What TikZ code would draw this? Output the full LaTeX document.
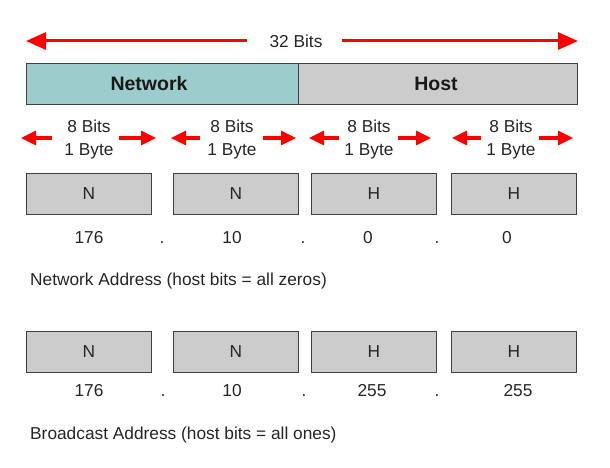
\documentclass[tikz,border=0pt]{standalone}
\usepackage{fontspec}
\setmainfont{Liberation Sans}
\usetikzlibrary{arrows.meta}
\definecolor{netcol}{HTML}{9CCCCC}
\definecolor{boxgray}{HTML}{CCCCCC}
\definecolor{arrred}{HTML}{FF0000}
\begin{document}
\begin{tikzpicture}[x=1pt,y=-1pt,
  lbl/.style={inner sep=0pt, font=\fontsize{17.3}{20}\selectfont, text=black!85},
  bartxt/.style={inner sep=0pt, font=\fontsize{19.5}{22}\bfseries\selectfont, text=black!90},
  barbox/.style={draw=black!75, line width=0.8pt, inner sep=0pt, anchor=north west},
  octet/.style={draw=black!75, line width=0.8pt, fill=boxgray, inner sep=0pt, anchor=north west,
    minimum width=125pt, minimum height=41pt, font=\fontsize{17.3}{20}\selectfont, text=black!85},
  bigarr/.style={draw=arrred, line width=3pt, -{Triangle[length=20pt,width=17pt]}},
  smallarr/.style={draw=arrred, line width=3pt, -{Triangle[length=15pt,width=14pt]}}
]
\useasboundingbox (0,0) rectangle (610,468);
% 32 bits arrow
\node[lbl] (t32) at (296,41) {32 Bits};
\coordinate (l32a) at (247,41); \coordinate (l32b) at (26,41);
\coordinate (r32a) at (342,41); \coordinate (r32b) at (578,41);
\draw[bigarr] (l32a) -- (l32b);
\draw[bigarr] (r32a) -- (r32b);
% bar
\node[barbox, fill=netcol, minimum width=272pt, minimum height=41pt] (net) at (26,63) {};
\node[barbox, fill=boxgray, minimum width=279pt, minimum height=41pt] (host) at (298,63) {};
\node[bartxt] (nett) at (149,84) {Network};
\node[bartxt] (hostt) at (436,84) {Host};
% byte labels
\foreach \i/\cx/\la/\lb/\ra/\rb in {1/89/52/21/119/156, 2/232/200/171/263/296, 3/369/339/309/398/431, 4/511/481/452/539/573}{
  \node[lbl] (b\i) at (\cx,126) {8 Bits};
  \node[lbl] (y\i) at (\cx,151) {1 Byte};
  \coordinate (la\i) at (\la,138); \coordinate (lb\i) at (\lb,138);
  \coordinate (ra\i) at (\ra,138); \coordinate (rb\i) at (\rb,138);
  \draw[smallarr] (la\i) -- (lb\i);
  \draw[smallarr] (ra\i) -- (rb\i);
}
% row 1
\node[octet] (n1) at (26,173) {N};
\node[octet] (n2) at (173,173) {N};
\node[octet] (h1) at (311,173) {H};
\node[octet] (h2) at (451,173) {H};
\node[lbl] (v11) at (89,238) {176};
\node[lbl] (d11) at (162,243) {.};
\node[lbl] (v12) at (232,238) {10};
\node[lbl] (d12) at (303,243) {.};
\node[lbl] (v13) at (368,238) {0};
\node[lbl] (d13) at (437,243) {.};
\node[lbl] (v14) at (507,238) {0};
\node[lbl, anchor=west] (cap1) at (30,281) {Network Address (host bits = all zeros)};
% row 2
\node[octet] (n3) at (26,331) {N};
\node[octet] (n4) at (173,331) {N};
\node[octet] (h3) at (311,331) {H};
\node[octet] (h4) at (451,331) {H};
\node[lbl] (v21) at (89,391) {176};
\node[lbl] (d21) at (163,396) {.};
\node[lbl] (v22) at (232,391) {10};
\node[lbl] (d22) at (304,396) {.};
\node[lbl] (v23) at (372,391) {255};
\node[lbl] (d23) at (437,396) {.};
\node[lbl] (v24) at (518,391) {255};
\node[lbl, anchor=west] (cap2) at (30,435) {Broadcast Address (host bits = all ones)};
\end{tikzpicture}
\end{document}
